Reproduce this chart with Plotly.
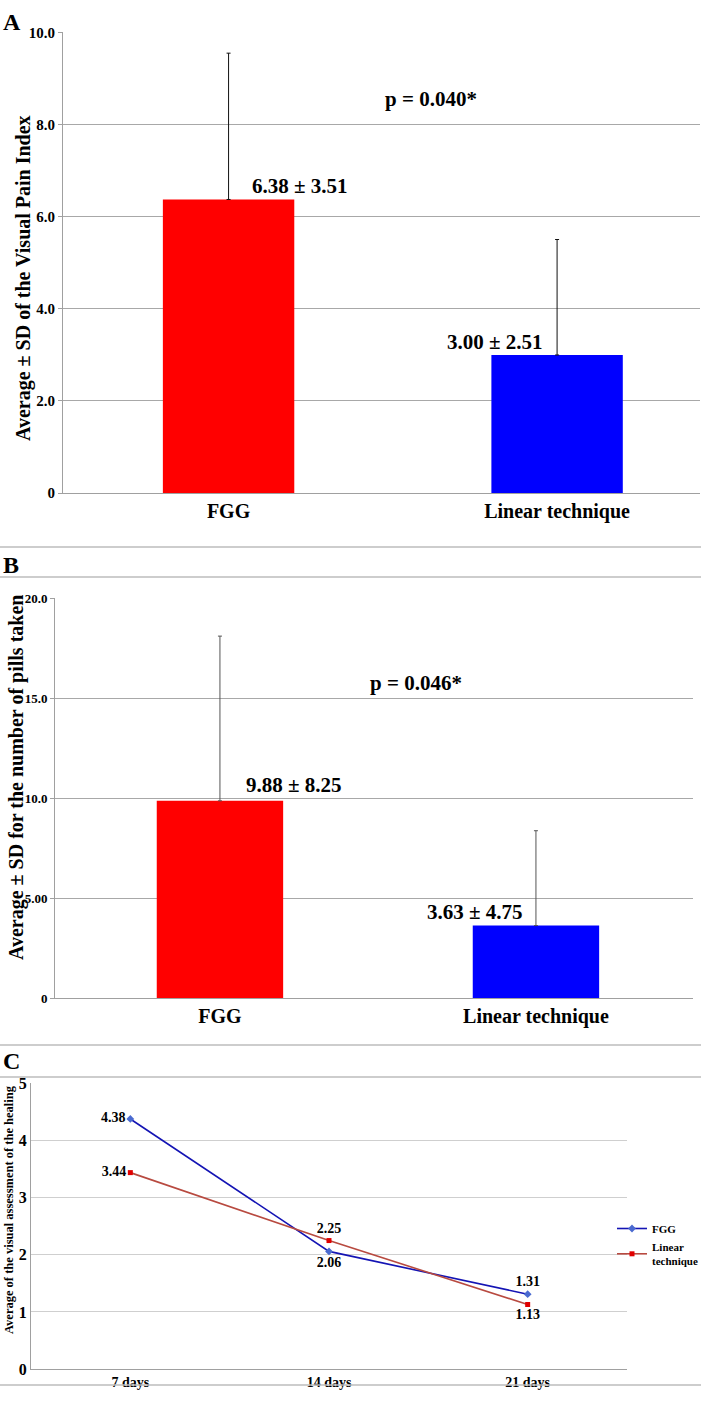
import plotly.graph_objects as go

W, H = 701, 1406
FONT = "Liberation Serif, Times New Roman, Times, serif"


def py(p):
    return 1 - p / H


def px(p):
    return p / W


# ---------------- data ----------------
groups = ["FGG", "Linear technique"]
pain_mean = [6.38, 3.00]
pain_sd_drawn = [3.18, 2.51]
pain_labels = ["6.38 ± 3.51", "3.00 ± 2.51"]
pain_p = "p = 0.040*"
pain_ticks = [0, 2, 4, 6, 8, 10]
pain_ticktext = ["0", "2.0", "4.0", "6.0", "8.0", "10.0"]

pills_mean = [9.88, 3.63]
pills_sd = [8.25, 4.75]
pills_labels = ["9.88 ± 8.25", "3.63 ± 4.75"]
pills_p = "p = 0.046*"
pills_ticks = [0, 5, 10, 15, 20]
pills_ticktext = ["0", "5.00", "10.0", "15.0", "20.0"]

days = ["7 days", "14 days", "21 days"]
fgg_heal = [4.38, 2.06, 1.31]
lin_heal = [3.44, 2.25, 1.13]
heal_ticks = [0, 1, 2, 3, 4, 5]

bar_colors = ["#ff0000", "#0000ff"]
grid_ab = "#a8a8a8"
grid_c = "#cfcfcf"


def b(s):
    return f"<b>{s}</b>"


fig = go.Figure()

# Panel A bars
fig.add_trace(go.Bar(
    x=[0, 1], y=pain_mean, width=0.4, marker=dict(color=bar_colors, line=dict(width=0)),
    error_y=dict(type="data", symmetric=False, array=pain_sd_drawn, arrayminus=[0, 0],
                 color="#111111", thickness=1, width=2),
    xaxis="x", yaxis="y", showlegend=False, hoverinfo="skip"))

# Panel B bars
fig.add_trace(go.Bar(
    x=[0, 1], y=pills_mean, width=0.4, marker=dict(color=bar_colors, line=dict(width=0)),
    error_y=dict(type="data", symmetric=False, array=pills_sd, arrayminus=[0, 0],
                 color="#555555", thickness=1, width=2),
    xaxis="x2", yaxis="y2", showlegend=False, hoverinfo="skip"))

# Panel C lines
lbl_font = dict(family=FONT, size=14, color="black")
fig.add_trace(go.Scatter(
    x=days, y=fgg_heal, mode="lines+markers+text", name=b("FGG"),
    line=dict(color="#1414b4", width=1.6),
    marker=dict(symbol="diamond", size=6, color="#4a6ad0"),
    text=[b(f"{v:.2f}") for v in fgg_heal],
    textposition=["middle left", "bottom center", "top center"],
    textfont=lbl_font, xaxis="x3", yaxis="y3", cliponaxis=False))
fig.add_trace(go.Scatter(
    x=days, y=lin_heal, mode="lines+markers+text", name=b("Linear<br>technique"),
    line=dict(color="#b84a40", width=1.6),
    marker=dict(symbol="square", size=5, color="#e00000"),
    text=[b(f"{v:.2f}") for v in lin_heal],
    textposition=["middle left", "top center", "bottom center"],
    textfont=lbl_font, xaxis="x3", yaxis="y3", cliponaxis=False))


def tf(s):
    return dict(family=FONT, size=s, color="black")


annotations = []
big = tf(21)
for xr, yr, xs, ys, txt in [
    ("x", "y", 0.216, 6.68, pain_labels[0]),
    ("x", "y", 0.81, 3.28, pain_labels[1]),
    ("x", "y", 0.616, 8.57, pain_p),
    ("x2", "y2", 0.234, 10.65, pills_labels[0]),
    ("x2", "y2", 0.807, 4.3, pills_labels[1]),
    ("x2", "y2", 0.62, 15.8, pills_p),
]:
    annotations.append(dict(x=xs, y=ys, xref=xr, yref=yr, text=b(txt), showarrow=False,
                            xanchor="center", yanchor="middle", font=big))

# Axis titles
annotations += [
    dict(x=px(23), y=py(278), xref="paper", yref="paper", textangle=-90, showarrow=False,
         xanchor="center", yanchor="middle",
         text=b("Average ± SD of the Visual Pain Index"), font=tf(20)),
    dict(x=px(16), y=py(778), xref="paper", yref="paper", textangle=-90, showarrow=False,
         xanchor="center", yanchor="middle",
         text=b("Average ± SD for the number of pills taken"), font=tf(20)),
    dict(x=px(9), y=py(1210), xref="paper", yref="paper", textangle=-90, showarrow=False,
         xanchor="center", yanchor="middle",
         text=b("Average of the visual assessment of the healing"), font=tf(12.5)),
]
# Panel letters
for letter, yy in [("A", 22), ("B", 565), ("C", 1061)]:
    annotations.append(dict(x=px(1), y=py(yy), xref="paper", yref="paper", xanchor="left",
                            yanchor="middle", showarrow=False, text=b(letter), font=tf(24)))

# separators
shapes = []
for yy in [547, 577, 1045, 1077, 1385]:
    shapes.append(dict(type="line", xref="paper", yref="paper", x0=0, x1=1, y0=py(yy), y1=py(yy),
                       line=dict(color="#bdbdbd", width=1.5)))

fig.update_layout(
    width=W, height=H, margin=dict(l=0, r=0, t=0, b=0, autoexpand=False),
    paper_bgcolor="white", plot_bgcolor="white",
    font=dict(family=FONT, color="black"),
    annotations=annotations, shapes=shapes,
    legend=dict(x=px(612), y=py(1214), xanchor="left", yanchor="top",
                font=tf(11), itemwidth=30,
                bgcolor="rgba(0,0,0,0)", tracegroupgap=0),
    xaxis=dict(domain=[px(63), px(700)], range=[-0.504, 1.435], anchor="y",
               tickvals=[0, 1], ticktext=[b(g) for g in groups], ticks="",
               tickfont=tf(20), showgrid=False, showline=True, linecolor="#a0a0a0", zeroline=False),
    yaxis=dict(domain=[py(493), py(32)], range=[0, 10.02], anchor="x",
               tickvals=pain_ticks, ticktext=[b(t) for t in pain_ticktext],
               tickfont=tf(15), ticks="outside", ticklen=4, tickcolor="#a0a0a0",
               showgrid=True, gridcolor=grid_ab, showline=True, linecolor="#a0a0a0", zeroline=False),
    xaxis2=dict(domain=[px(55), px(693)], range=[-0.522, 1.497], anchor="y2",
                tickvals=[0, 1], ticktext=[b(g) for g in groups], ticks="",
                tickfont=tf(20), showgrid=False, showline=True, linecolor="#a0a0a0", zeroline=False),
    yaxis2=dict(domain=[py(998), py(598)], range=[0, 20.04], anchor="x2",
                tickvals=pills_ticks, ticktext=[b(t) for t in pills_ticktext],
                tickfont=tf(13), ticks="outside", ticklen=4, tickcolor="#a0a0a0",
                showgrid=True, gridcolor=grid_ab, showline=True, linecolor="#a0a0a0", zeroline=False),
    xaxis3=dict(domain=[px(31), px(627)], range=[-0.5, 2.5], anchor="y3", type="category",
                tickvals=days, ticktext=[b(d) for d in days],
                tickfont=tf(14), ticks="", showgrid=False, showline=True,
                linecolor="#a0a0a0", zeroline=False),
    yaxis3=dict(domain=[py(1369), py(1083)], range=[0, 5.01], anchor="x3",
                tickvals=heal_ticks, ticktext=[b(t) for t in heal_ticks],
                tickfont=tf(16), ticks="", showgrid=True, gridcolor=grid_c,
                showline=True, linecolor="#a0a0a0", zeroline=False),
)

fig.write_html("out.html")
